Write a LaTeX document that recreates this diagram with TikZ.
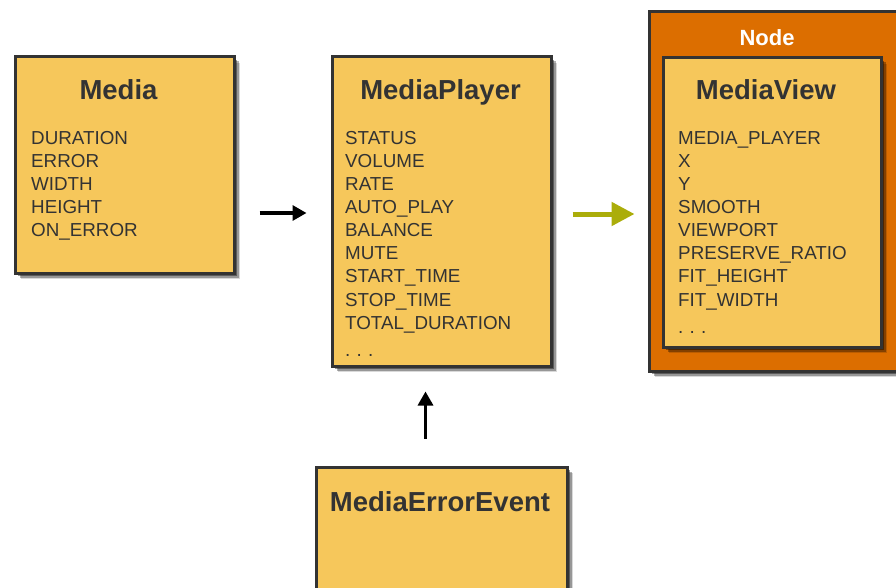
\documentclass[tikz,border=0pt]{standalone}
\usepackage{fontspec}
\setmainfont{Liberation Sans}
\usetikzlibrary{shadows,arrows.meta}
\definecolor{boxfill}{HTML}{F6C75B}
\definecolor{boxline}{HTML}{333333}
\definecolor{txt}{HTML}{333333}
\definecolor{nodeorange}{HTML}{DC6E00}
\definecolor{olivearrow}{HTML}{ABAD0A}
\newcommand{\itemlist}[1]{\begin{tabular}[t]{@{}l@{}}#1\end{tabular}}
\tikzset{
  softshadow/.style={
    drop shadow={shadow xshift=6pt, shadow yshift=-6pt, fill=black, opacity=0.15},
    drop shadow={shadow xshift=4.5pt, shadow yshift=-4.5pt, fill=black, opacity=0.3},
    drop shadow={shadow xshift=3pt, shadow yshift=-3pt, fill=black, opacity=0.4}},
  classbox/.style={draw=boxline, line width=3pt, fill=boxfill, inner sep=0pt, softshadow},
  outerbox/.style={draw=boxline, line width=3pt, fill=nodeorange, inner sep=0pt, softshadow},
  titletext/.style={font=\fontsize{27.5}{30}\selectfont\bfseries, text=txt, inner sep=0pt, anchor=base},
  itemtext/.style={font=\fontsize{18.8}{23}\selectfont, text=txt, inner sep=0pt, anchor=base west},
  blackarrow/.style={line width=3.2pt, draw=black, -{Triangle[length=14pt,width=15pt]}},
  greenarrow/.style={line width=5pt, draw=olivearrow, -{Triangle[length=23pt,width=23pt]}},
}
\begin{document}
\begin{tikzpicture}[x=1pt,y=-1pt]
\useasboundingbox (0,0) rectangle (896,588);
\begin{scope}
\clip (0,0) rectangle (896,588);
% boxes
\node[classbox, minimum width=219pt, minimum height=216pt] (media) at (124.5,165) {};
\node[classbox, minimum width=219pt, minimum height=309pt] (player) at (441.5,211.5) {};
\node[outerbox, minimum width=262pt, minimum height=359pt] (outer) at (780,191.5) {};
\node[classbox, minimum width=218pt, minimum height=289pt] (view) at (772,202.5) {};
\node[classbox, minimum width=251pt, minimum height=150pt] (event) at (441.5,542) {};
\end{scope}
% titles
\node[titletext] (tmedia) at (118.5,100) {Media};
\node[titletext] (tplayer) at (440.5,100) {MediaPlayer};
\node[titletext] (tview) at (766,100) {MediaView};
\node[titletext] (tevent) at (440,511) {MediaErrorEvent};
\node[font=\fontsize{22}{24}\selectfont\bfseries, text=white, inner sep=0pt, anchor=base] (tnode) at (767,46) {Node};
% items
\node[itemtext] (imedia) at (31,145) {\itemlist{DURATION\\ERROR\\WIDTH\\HEIGHT\\ON\_ERROR}};
\node[itemtext] (iplayer) at (345,145) {\itemlist{STATUS\\VOLUME\\RATE\\AUTO\_PLAY\\BALANCE\\MUTE\\START\_TIME\\STOP\_TIME\\TOTAL\_DURATION\\[4pt].\,\,.\,\,.}};
\node[itemtext] (iview) at (678,145) {\itemlist{MEDIA\_PLAYER\\X\\Y\\SMOOTH\\VIEWPORT\\PRESERVE\_RATIO\\FIT\_HEIGHT\\FIT\_WIDTH\\[4pt].\,\,.\,\,.}};
% arrows
\draw[blackarrow, shorten <=24pt, shorten >=24pt] ([yshift=-1.5pt]media.east |- player.west) -- ([yshift=-1.5pt]player.west);
\draw[greenarrow, shorten <=20pt, shorten >=13pt] ([yshift=-2.5pt]player.east) -- ([yshift=-2.5pt]player.east -| outer.west);
\draw[blackarrow, shorten <=27pt, shorten >=24pt] ([xshift=-16pt]event.north) -- ([xshift=-16pt]player.south);
\end{tikzpicture}
\end{document}
